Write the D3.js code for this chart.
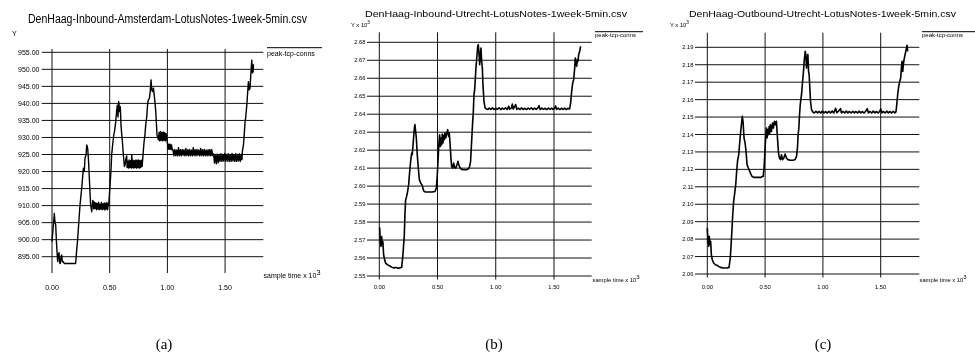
<!DOCTYPE html>
<html>
<head>
<meta charset="utf-8">
<script src="https://cdn.jsdelivr.net/npm/d3@7"></script>
<style>
  body { margin: 0; background: #fff; }
  svg { display: block; font-family: "Liberation Sans", Arial, sans-serif; will-change: transform; }
</style>
</head>
<body>
<svg id="chart" width="975" height="356"></svg>
<script>
// x ticks in samples (shown x 10^3)
var xTicks = [0, 500, 1000, 1500];

var yTicksA = [895, 900, 905, 910, 915, 920, 925, 930, 935, 940, 945, 950, 955];
var yTicksB = [2550, 2560, 2570, 2580, 2590, 2600, 2610, 2620, 2630, 2640, 2650, 2660, 2670, 2680];
var yTicksC = [2060, 2070, 2080, 2090, 2100, 2110, 2120, 2130, 2140, 2150, 2160, 2170, 2180, 2190];

var titles = [
  "DenHaag-Inbound-Amsterdam-LotusNotes-1week-5min.csv",
  "DenHaag-Inbound-Utrecht-LotusNotes-1week-5min.csv",
  "DenHaag-Outbound-Utrecht-LotusNotes-1week-5min.csv"
];
var captions = ["(a)", "(b)", "(c)"];
var seriesName = "peak-tcp-conns";

// [sample, peak-tcp-conns]
var inboundAmsterdam = [
  [0,899.4],[9,903],[20,907.7],[26,905],[32,904.3],[40,898.4],[49,893.6],[55,895.5],[61,896.2],[66,893.2],
  [72,893],[78,894.8],[84,895.5],[90,893.5],[95,893.6],[107,893],[205,893],[214,897],[223,900.4],[234,906],
  [243,910.2],[257,915],[272,921],[280,920],[286,923.9],[295,925],[301,927.8],[309,926.8],[315,924],[321,920],
  [329,914],[335,910.2],[344,908.2],[353,911.5],[358,911.2],
  [362,909],[368,911],[374,909.2],[380,910.8],[386,908.8],[392,910.6],[398,909],[404,911],[410,908.8],[416,910.4],
  [422,909],[428,910.9],[434,908.8],[440,910.5],[446,909],[452,910.8],[458,908.7],[464,910.6],[470,909],[476,910.9],
  [482,908.8],[488,910.5],[491,910],[503,916],[512,921],[517,924.9],[526,928],[535,930.7],[543,932],[552,934.6],
  [561,938],[566,939.5],[572,936],[578,940.5],[587,937.6],[592,939],[598,933.7],[604,931],[610,928.8],[616,926],
  [621,923.9],[627,921.5],[633,921.9],
  [639,923.5],[647,924.6],[651,921.2],[657,923],[663,921],[669,923.4],[675,921.2],[681,923.2],[687,921],[691,925],
  [697,921.2],[703,923.3],[709,921],[715,923.2],[721,921.2],[727,923.4],[733,921],[739,923.3],[745,921.2],[751,923.4],
  [757,921],[763,923.2],[769,921.2],[775,923.3],[781,921.5],
  [789,925],[798,928.8],[806,931],[812,933.7],[821,936],[829,940],[835,941],[844,941.5],[850,943],[858,946.9],
  [864,944],[870,943.5],[879,944.5],[887,942],[893,940],[899,937.6],[905,934],[910,930.7],[922,929.3],
  [928,931.5],[934,929],[940,931.8],[946,929.2],[952,931.5],[958,929],[964,931.6],[970,929.2],[976,931.4],[982,929],
  [988,931.2],[994,929.5],[1000,928.5],[1006,926.5],[1012,928],[1018,926.6],[1024,928],[1030,926.5],[1036,927.8],[1042,926.3],
  [1048,926.4],[1056,924.6],[1064,926.5],[1072,924.7],[1080,926.3],[1088,924.6],[1096,927],[1104,924.7],[1112,926.4],[1120,924.6],
  [1128,926.5],[1136,924.8],[1144,926.4],[1152,924.6],[1160,926.8],[1168,924.7],[1176,926.4],[1184,924.6],[1192,926.5],[1200,924.7],
  [1208,926.3],[1216,924.6],[1224,927],[1232,924.7],[1240,926.4],[1248,924.6],[1256,926.5],[1264,924.8],[1272,926.3],[1280,924.6],
  [1288,926.8],[1296,924.7],[1304,926.4],[1312,924.6],[1320,926.5],[1328,924.7],[1336,926.3],[1344,924.6],[1352,926.4],[1360,924.7],
  [1368,926.5],[1376,924.6],[1384,926.4],[1392,924.7],
  [1400,925.2],[1408,922.5],[1416,925],[1424,922.3],[1432,925.1],[1440,922.6],[1448,925],[1456,923],[1464,925.2],[1472,923],
  [1480,925],[1488,923.1],[1496,925.3],[1504,923],[1512,925],[1520,923.1],[1528,925.2],[1536,923],[1544,925],[1552,923],
  [1560,925.3],[1568,923.1],[1576,925],[1584,923],[1592,925.2],[1600,923],[1608,925],[1616,923.1],[1624,925.2],[1632,923],
  [1640,925],[1646,923.5],
  [1650,926],[1659,927.8],[1668,932],[1673,934.6],[1679,936],[1688,939.5],[1693,942],[1702,946.4],[1708,944],[1716,944.4],
  [1722,948],[1731,952.7],[1737,949],[1743,949.3],[1746,951.5]
];

var inboundUtrecht = [
  [3,2577],[9,2569.2],[14,2566.5],[20,2572],[26,2567.4],[31,2569],[37,2561.8],[46,2559],[54,2557.2],[69,2556.3],
  [83,2555.9],[97,2555.3],[112,2554.8],[126,2554.4],[140,2554.8],[155,2554.4],[175,2554.4],[192,2554.8],[203,2561.8],[215,2573],
  [220,2584],[226,2592.4],[235,2594.3],[243,2597],[252,2600.8],[261,2608.2],[269,2613.8],[278,2618.4],[283,2617.5],[292,2624.9],
  [301,2632.3],[306,2634.2],[312,2630.5],[318,2626.8],[326,2617.5],[335,2610],[344,2603.6],[355,2601.7],[369,2600.4],[378,2598],
  [386,2597],[398,2596.7],[427,2596.7],[455,2596.7],[478,2597],[490,2598.9],[498,2606.3],[507,2617.5],[512,2624],[518,2628.6],
  [524,2622.1],[530,2626.8],[535,2623],[541,2629],[547,2624],[553,2628.2],[558,2625.8],[564,2629.6],[570,2626.8],[578,2628.6],
  [587,2631.4],[596,2627.7],[601,2629.6],[610,2621.2],[616,2614.7],[621,2611],[630,2610],[638,2612.8],[647,2610.4],[656,2610],
  [667,2611.9],[676,2613.8],[684,2611.5],[696,2610],[707,2609.3],[727,2609.1],[747,2609.1],[764,2609.5],[776,2611],[784,2613.8],
  [790,2621.2],[796,2628.6],[802,2636],[807,2640.7],[813,2650.9],[819,2653.7],[825,2660.1],[830,2665.7],[836,2670.4],[845,2677.8],
  [850,2678.7],[856,2674.1],[862,2667.6],[867,2672.2],[873,2676.8],[879,2669.4],[885,2665.7],[890,2656.4],[899,2647.2],[908,2643.5],
  [916,2643.1],[930,2642.6],[944,2643.4],[958,2642.7],[972,2643.5],[986,2642.6],[1000,2643.3],[1014,2642.7],[1028,2643.6],[1042,2642.6],
  [1056,2643.4],[1070,2642.8],[1084,2643.5],[1098,2642.6],[1112,2644.5],[1120,2642.8],[1134,2643.4],[1142,2645.6],[1150,2642.9],[1158,2643.8],
  [1171,2645.4],[1180,2642.7],[1194,2643.4],[1208,2642.6],[1222,2643.5],[1236,2642.7],[1250,2643.3],[1264,2642.6],[1278,2643.4],[1292,2642.8],
  [1306,2643.5],[1320,2642.6],[1334,2643.4],[1348,2642.7],[1362,2643.5],[1371,2644.8],[1382,2642.6],[1396,2643.4],[1410,2642.7],[1424,2643.3],
  [1438,2642.6],[1452,2643.4],[1466,2642.7],[1480,2643.4],[1494,2642.6],[1508,2643.5],[1514,2644.6],[1522,2642.7],[1536,2643.4],[1550,2642.6],
  [1564,2643.3],[1578,2642.7],[1592,2643.4],[1606,2642.6],[1620,2643.3],[1634,2642.8],
  [1643,2646.2],[1652,2652.7],[1661,2657.4],[1669,2659.2],[1678,2665.7],[1683,2671.3],[1689,2667.6],[1695,2666.7],[1701,2670.4],[1706,2669.4],
  [1712,2673.1],[1721,2675],[1729,2677.8]
];

var outboundUtrecht = [
  [0,2086.4],[6,2078.7],[12,2075.9],[17,2081.6],[23,2076.8],[29,2078.7],[35,2071.1],[43,2068.2],[55,2066.3],[69,2065.3],
  [84,2065],[98,2064.4],[113,2063.8],[142,2063.4],[171,2063.4],[188,2063.8],[199,2069.2],[211,2082.5],[220,2094],[228,2101.7],
  [237,2106.4],[246,2111.2],[254,2118.9],[263,2125.6],[272,2128.4],[280,2135.1],[289,2141.8],[298,2147.6],[303,2150.4],[309,2147.6],
  [318,2138],[327,2135.1],[335,2130.3],[344,2122.7],[355,2120.8],[367,2118.9],[379,2117],[387,2116],[402,2115.4],[431,2115.4],
  [460,2115.4],[483,2116],[491,2120.8],[500,2132.3],[506,2139.9],[512,2143.7],[517,2138],[523,2142.8],[529,2139.9],[535,2144.6],
  [540,2140.8],[546,2145.6],[555,2141.8],[564,2146.6],[572,2143.7],[581,2147.6],[590,2145.6],[598,2147.6],[607,2138],[616,2129.4],
  [624,2126.5],[633,2125.6],[642,2128.4],[650,2125.6],[662,2126.5],[673,2128.8],[685,2126.5],[696,2125.6],[720,2125.2],[743,2125.2],
  [760,2125.6],[772,2127.5],[780,2132.3],[786,2139.9],[792,2143.7],[798,2151.4],[803,2156.2],[809,2160],[815,2162.8],[821,2167.6],
  [827,2172.4],[832,2176.2],[838,2182],[847,2187.7],[853,2185.8],[858,2178.1],[864,2182],[870,2185.8],[876,2176.2],[881,2174.3],
  [887,2166.7],[893,2159],[902,2154.2],
  [913,2152.9],[926,2152.3],[940,2153.3],[954,2152.4],[968,2153.2],[982,2152.3],[996,2153.4],[1010,2152.4],[1024,2153.1],[1038,2152.3],
  [1052,2153.3],[1066,2152.4],[1080,2153.5],[1094,2152.3],[1110,2155],[1120,2152.5],[1134,2153.3],[1153,2154.8],[1160,2152.4],[1174,2153.2],
  [1188,2152.3],[1202,2153.4],[1216,2152.4],[1230,2153.2],[1244,2152.3],[1258,2153.3],[1272,2152.4],[1286,2153.2],[1300,2152.3],[1314,2153.4],
  [1328,2152.4],[1342,2153.2],[1356,2152.3],[1370,2153.3],[1384,2154.8],[1394,2152.4],[1408,2153.2],[1422,2152.3],[1436,2153.4],[1450,2152.4],
  [1464,2153.2],[1478,2152.3],[1492,2153.3],[1500,2154.6],[1510,2152.4],[1524,2153.2],[1538,2152.3],[1552,2153.4],[1566,2152.4],[1580,2153.2],
  [1594,2152.3],[1608,2153.3],[1622,2152.4],[1632,2153],
  [1639,2157.1],[1647,2162.8],[1656,2167.6],[1665,2170.5],[1673,2172.4],[1679,2178.1],[1685,2182],[1691,2176.2],[1696,2180],[1702,2182.9],
  [1711,2185.8],[1720,2188.7],[1728,2191.1],[1734,2187.7]
];

// layout of each panel (pixels)
var panels = [
  { data: inboundAmsterdam, yTicks: yTicksA, fmt: function(v){ return v.toFixed(2); }, yName: "Y", yExp: false,
    left: 52, right: 263.3, xMax: 1831, vTop: 49, vBottom: 273, yRange: [256.7, 52.3],
    tickFont: 7, tickStart: 41.7, yLabelX: 39.5, xLabelY: 289.5, yNameX: 12, yNameY: 36,
    titleX: 167.5, titleY: 23, titleSize: 12, titleLen: 279,
    xNameX: 263.5, xNameY: 277.5, legX: 267, legX2: 322, legY: 47.7, legTextY: 56, legFont: 7, lineW: 1.4, capX: 164 },
  { data: inboundUtrecht, yTicks: yTicksB, fmt: function(v){ return (v / 1000).toFixed(2); }, yName: "Y x 10", yExp: true,
    left: 379.3, right: 591.7, xMax: 1824, vTop: 32.3, vBottom: 279.5, yRange: [276, 42.3],
    tickFont: 5.8, tickStart: 367, yLabelX: 365.5, xLabelY: 288.5, yNameX: 351, yNameY: 26.5,
    titleX: 496, titleY: 16.5, titleSize: 9.6, titleLen: 262,
    xNameX: 592.5, xNameY: 281.7, legX: 595, legX2: 643, legY: 31.7, legTextY: 36.8, legFont: 6, lineW: 1.6, capX: 494 },
  { data: outboundUtrecht, yTicks: yTicksC, fmt: function(v){ return (v / 1000).toFixed(2); }, yName: "Y x 10", yExp: true,
    left: 707.3, right: 919.3, xMax: 1834, vTop: 32.7, vBottom: 277.5, yRange: [274, 47.3],
    tickFont: 5.8, tickStart: 695, yLabelX: 693.5, xLabelY: 288.5, yNameX: 670, yNameY: 26.5,
    titleX: 822.5, titleY: 16.5, titleSize: 9.6, titleLen: 267,
    xNameX: 919.5, xNameY: 281.7, legX: 922, legX2: 975, legY: 31.7, legTextY: 36.8, legFont: 6, lineW: 1.6, capX: 823 }
];

var svg = d3.select("#chart");

function drawPanel(p, i){
  var g = svg.append("g");
  var x = d3.scaleLinear().domain([0, p.xMax]).range([p.left, p.right]);
  var y = d3.scaleLinear().domain([p.yTicks[0], p.yTicks[p.yTicks.length - 1]]).range(p.yRange);

  // horizontal grid lines + y labels
  g.selectAll(".hgrid").data(p.yTicks).enter().append("line")
    .attr("x1", p.tickStart).attr("x2", p.right)
    .attr("y1", function(d){ return y(d); }).attr("y2", function(d){ return y(d); })
    .attr("stroke", "#111").attr("stroke-width", 1);

  g.selectAll(".ylab").data(p.yTicks).enter().append("text")
    .attr("x", p.yLabelX).attr("y", function(d){ return y(d) + p.tickFont * 0.36; })
    .attr("text-anchor", "end").attr("font-size", p.tickFont).attr("fill", "#000")
    .text(p.fmt);

  // vertical grid lines + x labels
  g.selectAll(".vgrid").data(xTicks).enter().append("line")
    .attr("x1", function(d){ return x(d); }).attr("x2", function(d){ return x(d); })
    .attr("y1", p.vTop).attr("y2", p.vBottom)
    .attr("stroke", "#111").attr("stroke-width", 1);

  g.selectAll(".xlab").data(xTicks).enter().append("text")
    .attr("x", function(d){ return x(d); }).attr("y", p.xLabelY)
    .attr("text-anchor", "middle").attr("font-size", p.tickFont).attr("fill", "#000")
    .text(function(d){ return (d / 1000).toFixed(2); });

  // the series
  var line = d3.line()
    .x(function(d){ return x(d[0]); })
    .y(function(d){ return y(d[1]); });

  g.append("path").datum(p.data)
    .attr("d", line)
    .attr("fill", "none").attr("stroke", "#000")
    .attr("stroke-width", p.lineW).attr("stroke-linejoin", "round");

  // title
  g.append("text")
    .attr("x", p.titleX).attr("y", p.titleY)
    .attr("text-anchor", "middle").attr("font-size", p.titleSize)
    .attr("textLength", p.titleLen).attr("lengthAdjust", "spacingAndGlyphs")
    .text(titles[i]);

  // y axis name
  var yn = g.append("text").attr("x", p.yNameX).attr("y", p.yNameY).attr("font-size", p.tickFont);
  yn.append("tspan").text(p.yName);
  if (p.yExp) yn.append("tspan").attr("dy", -2.5).attr("font-size", p.tickFont * 0.8).text("3");

  // x axis name
  var xn = g.append("text").attr("x", p.xNameX).attr("y", p.xNameY).attr("font-size", p.tickFont);
  xn.append("tspan").text("sample time x 10");
  xn.append("tspan").attr("dy", -3).attr("font-size", p.tickFont * 1.05).text("3");

  // legend
  g.append("line")
    .attr("x1", p.legX).attr("x2", p.legX2).attr("y1", p.legY).attr("y2", p.legY)
    .attr("stroke", "#000").attr("stroke-width", 1);
  g.append("text").attr("x", p.legX).attr("y", p.legTextY)
    .attr("font-size", p.legFont).text(seriesName);

  // caption
  svg.append("text")
    .attr("x", p.capX).attr("y", 349)
    .attr("text-anchor", "middle")
    .attr("font-family", "'Liberation Serif', 'DejaVu Serif', serif")
    .attr("font-size", 15)
    .text(captions[i]);
}

panels.forEach(drawPanel);
</script>
</body>
</html>
